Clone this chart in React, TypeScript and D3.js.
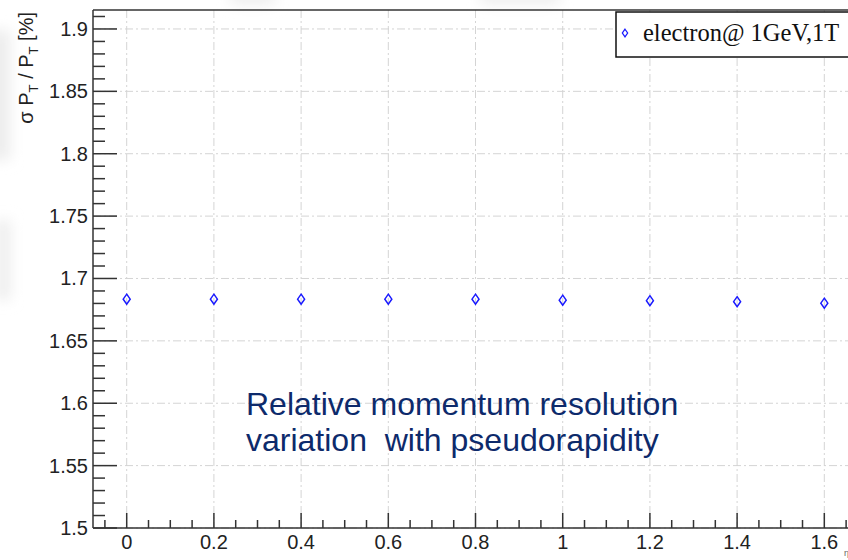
import React from "react";
import * as d3 from "d3";

const etaValues = [0, 0.2, 0.4, 0.6, 0.8, 1.0, 1.2, 1.4, 1.6];
const resolution = [1.6834, 1.6834, 1.6834, 1.6834, 1.6834, 1.6826, 1.6822, 1.6814, 1.6802];
const yTicks = [1.5, 1.55, 1.6, 1.65, 1.7, 1.75, 1.8, 1.85, 1.9];
const yTickLabels = ["1.5", "1.55", "1.6", "1.65", "1.7", "1.75", "1.8", "1.85", "1.9"];
const xTicks = [0, 0.2, 0.4, 0.6, 0.8, 1.0, 1.2, 1.4, 1.6];
const xTickLabels = ["0", "0.2", "0.4", "0.6", "0.8", "1", "1.2", "1.4", "1.6"];
const legendLabel = "electron@ 1GeV,1T";
const noteLines = ["Relative momentum resolution", "variation\u00a0 with pseudorapidity"];

const W = 848, H = 560;
const left = 93, top = 10, bottom = 528, right = 900;

export default function App() {
  const x = d3.scaleLinear().domain([-0.0773, 1.7736]).range([left, right]);
  const y = d3.scaleLinear().domain([1.5, 1.9152]).range([bottom, top]);

  const yMinor = d3.range(150, 192).map((v) => v / 100).filter((v) => y(v) >= top);
  const xMinor = d3.range(-1, 36).map((v) => v * 0.05).filter((v) => x(v) >= left && x(v) <= W + 5);

  const axisColor = "#333";
  const gridColor = "#d4d4d4";
  const gridDash = "8,3,2,3";
  const font = "'Liberation Sans', Arial, sans-serif";

  const diamond = (cx: number, cy: number, s = 1) =>
    `M${cx},${cy - 5 * s} L${cx + 3.5 * s},${cy} L${cx},${cy + 5 * s} L${cx - 3.5 * s},${cy} Z`;

  return (
    <svg width={W} height={H} style={{ position: "absolute", left: 0, top: 0, background: "#fff" }}>
      <defs>
        <filter id="blur" x="-100%" y="-100%" width="300%" height="300%">
          <feGaussianBlur stdDeviation="7" />
        </filter>
      </defs>
      {/* faint background smudges */}
      <g filter="url(#blur)" fill="#ececec">
        <rect x={-10} y={30} width={20} height={130} />
        <rect x={-4} y={220} width={14} height={80} />
        <rect x={230} y={-10} width={45} height={14} />
        <rect x={480} y={-10} width={80} height={14} />
      </g>

      {/* grid */}
      <g stroke={gridColor} strokeWidth={1} strokeDasharray={gridDash}>
        {xTicks.map((t) => (
          <line key={"gx" + t} x1={x(t)} x2={x(t)} y1={top} y2={bottom} />
        ))}
        {yTicks.map((t) => (
          <line key={"gy" + t} x1={left} x2={right} y1={y(t)} y2={y(t)} />
        ))}
      </g>

      {/* frame */}
      <line x1={left} x2={right} y1={top} y2={top} stroke={axisColor} strokeWidth={1.5} />
      <line x1={left} x2={left} y1={top} y2={bottom} stroke={axisColor} strokeWidth={1.5} />
      <line x1={left} x2={right} y1={bottom} y2={bottom} stroke={axisColor} strokeWidth={1.5} />

      {/* y ticks */}
      <g stroke={axisColor} strokeWidth={1.5}>
        {yMinor.map((v) => {
          const major = Math.abs(Math.round(v * 100) % 5) === 0;
          return <line key={"yt" + v} x1={left} x2={left + (major ? 24 : 12)} y1={y(v)} y2={y(v)} />;
        })}
      </g>
      {/* x ticks */}
      <g stroke={axisColor} strokeWidth={1.5}>
        {xMinor.map((v) => {
          const major = Math.abs(Math.round(v * 100) % 20) === 0;
          return <line key={"xt" + v} x1={x(v)} x2={x(v)} y1={bottom} y2={bottom - (major ? 15 : 8)} />;
        })}
      </g>

      {/* tick labels */}
      <g fontFamily={font} fontSize={20} fill="#222">
        {yTicks.map((t, i) => (
          <text key={"yl" + t} x={88} y={y(t)} textAnchor="end" dominantBaseline="central">
            {yTickLabels[i]}
          </text>
        ))}
        {xTicks.map((t, i) => (
          <text key={"xl" + t} x={x(t)} y={549} textAnchor="middle">
            {xTickLabels[i]}
          </text>
        ))}
      </g>

      {/* y axis title */}
      <text transform="translate(33,12) rotate(-90)" textAnchor="end" fontFamily={font} fontSize={20} fill="#222">
        σ P<tspan fontSize={13} dy={5}>T</tspan>
        <tspan dy={-5}> / P</tspan>
        <tspan fontSize={13} dy={5}>T</tspan>
        <tspan dy={-5}> [%]</tspan>
      </text>
      <text x={844} y={556} fontFamily={font} fontSize={9} fill="#666">η</text>

      {/* data markers */}
      <g fill="none" stroke="#1a1aff" strokeWidth={1.5}>
        {etaValues.map((e, i) => (
          <path key={"p" + e} d={diamond(x(e), y(resolution[i]))} />
        ))}
      </g>

      {/* note */}
      <g fontFamily={font} fontSize={32} fill="#0d2a6b">
        {noteLines.map((l, i) => (
          <text key={"n" + i} x={246} y={415 + i * 36}>{l}</text>
        ))}
      </g>

      {/* legend */}
      <rect x={616} y={12} width={300} height={45} fill="#fff" stroke="#111" strokeWidth={1.5} />
      <path d={diamond(625, 33, 0.75)} fill="none" stroke="#1a1aff" strokeWidth={1.3} />
      <text x={643} y={41} fontFamily="'Liberation Serif', 'Times New Roman', serif" fontSize={24.5} fill="#111">
        {legendLabel}
      </text>
    </svg>
  );
}
